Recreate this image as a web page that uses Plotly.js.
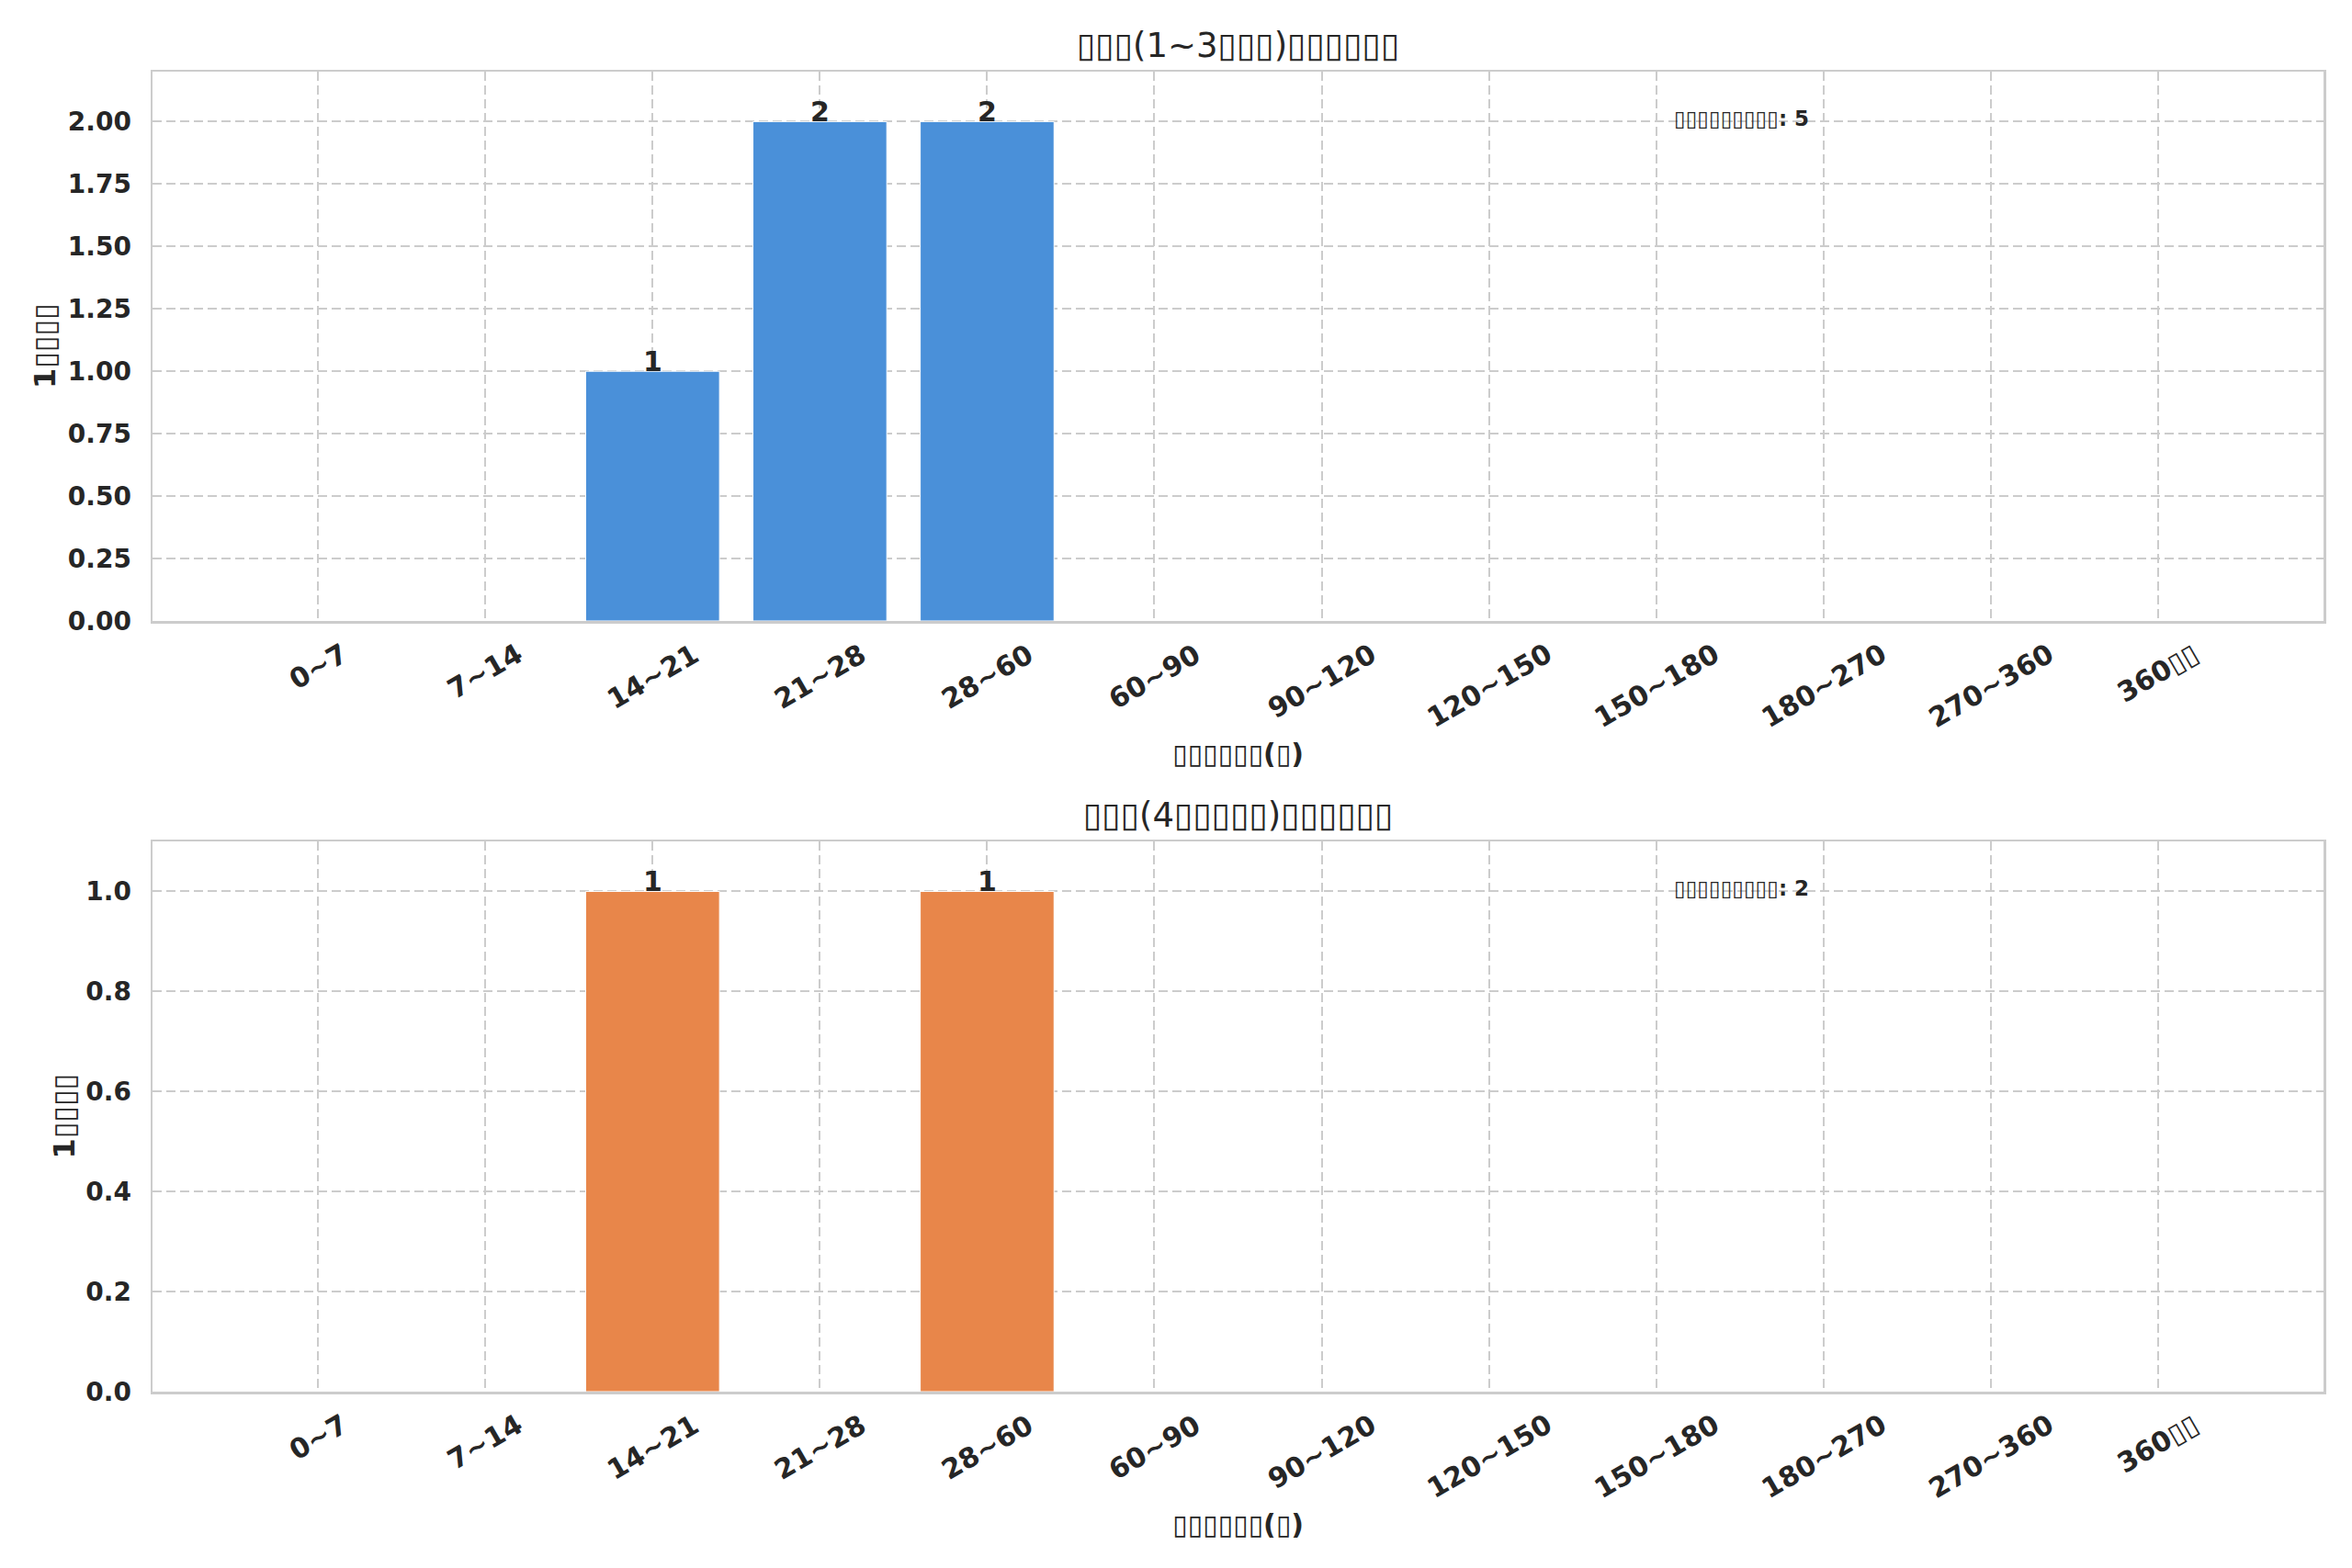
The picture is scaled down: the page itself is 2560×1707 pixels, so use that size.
<!DOCTYPE html>
<html>
<head>
<meta charset="utf-8">
<script src="https://cdn.plot.ly/plotly-3.0.1.min.js"></script>
<style>
  html, body { margin: 0; padding: 0; background: #ffffff; }
  #chart { width: 2560px; height: 1707px; }
</style>
</head>
<body>
<div id="chart"></div>
<script>
// Interval buckets (days) and counts per group.
// The source rendered its CJK labels as missing-glyph boxes; they are kept as boxes here.
const bins = ["0~7", "7~14", "14~21", "21~28", "28~60", "60~90", "90~120",
              "120~150", "150~180", "180~270", "270~360", "360▯▯"];
const lowCounts  = [0, 0, 1, 2, 2, 0, 0, 0, 0, 0, 0, 0];
const highCounts = [0, 0, 1, 0, 1, 0, 0, 0, 0, 0, 0, 0];

const lowTitle  = "▯▯▯(1~3▯▯▯)▯▯▯▯▯▯";
const highTitle = "▯▯▯(4▯▯▯▯▯)▯▯▯▯▯▯";
const xLabel = "▯▯▯▯▯▯(▯)";
const yLabel = "1▯▯▯▯";
const totalLabel = "▯▯▯▯▯▯▯▯▯";

const FONT = "DejaVu Sans, Verdana, sans-serif";
const TEXT = "#262626";
const GRID = "#cccccc";
const W = 2560, H = 1707;

// plot box edges in pixels (left, right, top, bottom)
const boxX = [166, 2529];
const panels = [
    { top: 78,  bottom: 676,  counts: lowCounts,  color: "#4a90d9", title: lowTitle,
      dtick: 0.25, fmt: ".2f", yLabX: 49 },
    { top: 916, bottom: 1515, counts: highCounts, color: "#e8864a", title: highTitle,
      dtick: 0.2,  fmt: ".1f", yLabX: 69 },
];

const traces = [];
const annotations = [];
const layout = {
    width: W, height: H,
    margin: { t: 0, b: 0, l: 0, r: 0 },
    paper_bgcolor: "#ffffff", plot_bgcolor: "#ffffff",
    font: { family: FONT, color: TEXT },
    showlegend: false,
    bargap: 0.2,
};

panels.forEach((p, i) => {
    const n = i === 0 ? "" : "2";
    const xa = "x" + n, ya = "y" + n;
    const maxV = Math.max(...p.counts);
    const total = p.counts.reduce((a, b) => a + b, 0);

    traces.push({
        type: "bar",
        x: bins, y: p.counts,
        xaxis: xa, yaxis: ya,
        marker: { color: p.color, line: { color: "#ffffff", width: 1 } },
        hoverinfo: "x+y",
    });

    // value labels sitting on top of each non-empty bar
    p.counts.forEach((v, k) => {
        if (v <= 0) return;
        annotations.push({
            x: bins[k], xref: xa, y: v, yref: ya,
            xanchor: "center", yanchor: "bottom", yshift: -9, showarrow: false,
            text: String(v),
            font: { family: FONT, size: 30, weight: "bold", color: TEXT },
        });
    });

    const common = {
        showgrid: true, gridcolor: GRID, gridwidth: 2, griddash: "10px,5px",
        showline: true, mirror: true, linecolor: GRID, linewidth: 2.5,
        zeroline: false, ticks: "",
    };
    layout["xaxis" + n] = {
        ...common,
        anchor: ya,
        type: "category",
        domain: [boxX[0] / W, boxX[1] / W],
        range: [-0.99, 11.99],
        showticklabels: false,
    };
    layout["yaxis" + n] = {
        ...common,
        anchor: xa,
        domain: [1 - p.bottom / H, 1 - p.top / H],
        range: [0, maxV * 1.1],
        dtick: p.dtick,
        tickformat: p.fmt,
        ticklabelstandoff: 15,
        tickfont: { family: FONT, size: 28, weight: "bold", color: TEXT },
    };

    // rotated category labels, centred under each tick
    bins.forEach(b => {
        annotations.push({
            x: b, xref: xa, y: 0, yref: ya + " domain",
            yshift: -15, xanchor: "center", yanchor: "top",
            text: b, textangle: -30, showarrow: false,
            font: { family: FONT, size: 30, weight: "bold", color: TEXT },
        });
    });

    // subplot title
    annotations.push({
        x: (boxX[0] + boxX[1]) / 2 / W, xref: "paper",
        y: 1 - (p.top - 29) / H, yref: "paper",
        xanchor: "center", yanchor: "middle", showarrow: false,
        text: p.title,
        font: { family: FONT, size: 37, color: TEXT },
    });
    // x axis title
    annotations.push({
        x: (boxX[0] + boxX[1]) / 2 / W, xref: "paper",
        y: 1 - (p.bottom + 144) / H, yref: "paper",
        xanchor: "center", yanchor: "middle", showarrow: false,
        text: xLabel,
        font: { family: FONT, size: 30, weight: "bold", color: TEXT },
    });
    // y axis title
    annotations.push({
        x: p.yLabX / W, xref: "paper",
        y: 1 - (p.top + p.bottom) / 2 / H, yref: "paper",
        xanchor: "center", yanchor: "middle", showarrow: false,
        textangle: -90,
        text: yLabel,
        font: { family: FONT, size: 32, weight: "bold", color: TEXT },
    });
    // group total
    annotations.push({
        x: 0.7, xref: xa + " domain", y: 0.915, yref: ya + " domain",
        xanchor: "left", yanchor: "middle", showarrow: false,
        text: totalLabel + ": " + total,
        font: { family: FONT, size: 23, weight: "bold", color: TEXT },
    });
});

layout.annotations = annotations;

Plotly.newPlot("chart", traces, layout, { staticPlot: true, displayModeBar: false });
</script>
</body>
</html>
